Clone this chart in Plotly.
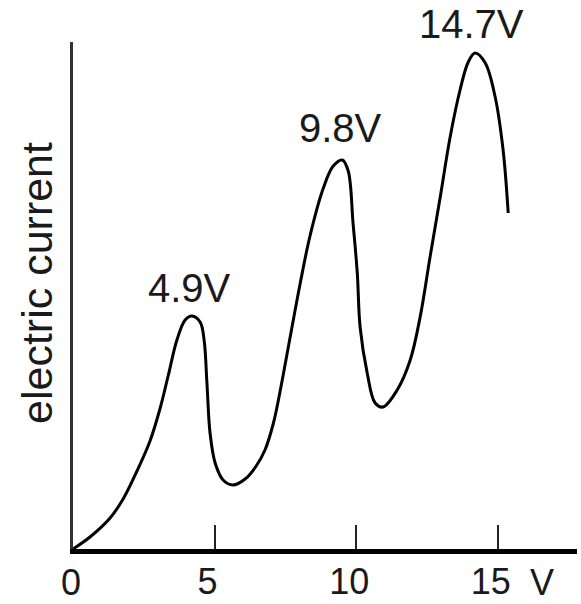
import plotly.graph_objects as go

# Accelerating voltage (V) and electric current (arbitrary units)
voltage = [0.0, 0.60, 1.31, 1.77, 2.26, 2.72, 3.07, 3.36, 3.67, 3.96, 4.20, 4.49, 4.63, 4.73,
           4.84, 5.02, 5.30, 5.65, 6.08, 6.47, 6.78, 7.07, 7.31, 7.67, 8.02, 8.37, 8.83, 9.19,
           9.51, 9.72, 9.89, 10.04, 10.14, 10.39, 10.67, 10.95, 11.45, 11.91, 12.26, 12.61,
           12.97, 13.32, 13.67, 13.96, 14.20, 14.56, 14.91, 15.19, 15.37]
current = [0.0, 1.2, 3.1, 5.0, 7.8, 10.8, 14.0, 17.3, 20.9, 22.9, 23.3, 22.7, 20.9, 16.6,
           11.6, 8.6, 6.9, 6.4, 7.0, 8.3, 9.9, 12.5, 15.7, 21.2, 26.5, 31.3, 36.0, 38.3,
           38.9, 37.8, 32.6, 27.6, 22.2, 17.6, 14.6, 14.2, 15.9, 18.9, 23.2, 29.2,
           35.2, 41.2, 45.9, 48.7, 49.6, 48.6, 45.2, 39.9, 33.6]

# Peak labels (paper coordinates of their centres)
peak_labels = ["4.9V", "9.8V", "14.7V"]
peak_px = [0.2302, 0.5317, 0.7897]
peak_py = [0.5148, 0.8304, 1.0355]

# Axis ticks
tick_vals = [5, 10, 15]
tick_text = ["5", "10", "15"]
origin_label = "0"
unit_label = "V"
y_title = "electric current"

FONT = "Liberation Sans, Arial, sans-serif"
TXT = "#1a1a1a"
TICK_SIZE = 36

fig = go.Figure()
fig.add_trace(go.Scatter(
    x=voltage, y=current, mode="lines",
    line=dict(color="black", width=3, shape="spline", smoothing=1.0),
    hoverinfo="skip", showlegend=False, cliponaxis=False,
))

annotations = []
for t, x, y in zip(peak_labels, peak_px, peak_py):
    annotations.append(dict(x=x, y=y, xref="paper", yref="paper", text=t, showarrow=False,
                            font=dict(family=FONT, size=40, color=TXT),
                            xanchor="center", yanchor="middle"))
annotations.append(dict(x=-0.004, y=-0.0651, xref="paper", yref="paper", text=origin_label,
                        showarrow=False, font=dict(family=FONT, size=TICK_SIZE, color=TXT),
                        xanchor="center", yanchor="middle"))
annotations.append(dict(x=0.9306, y=-0.0651, xref="paper", yref="paper", text=unit_label,
                        showarrow=False, font=dict(family=FONT, size=TICK_SIZE, color=TXT),
                        xanchor="center", yanchor="middle"))
annotations.append(dict(x=-0.0714, y=0.5247, xref="paper", yref="paper", text=y_title,
                        showarrow=False, textangle=-90,
                        font=dict(family=FONT, size=43, color=TXT),
                        xanchor="center", yanchor="middle"))

fig.update_layout(
    width=581, height=604,
    margin=dict(l=73, r=4, t=42, b=55, pad=0, autoexpand=False),
    paper_bgcolor="white", plot_bgcolor="white",
    annotations=annotations,
    xaxis=dict(range=[0, 17.8], showgrid=False, zeroline=False, automargin=False,
               showline=True, linecolor="black", linewidth=5,
               ticks="inside", ticklen=24, tickwidth=2, tickcolor="#222",
               tickvals=tick_vals, ticktext=tick_text,
               tickfont=dict(family=FONT, size=TICK_SIZE, color=TXT),
               ticklabelshift=-7, ticklabelstandoff=-3),
    yaxis=dict(range=[0, 50.7], showgrid=False, zeroline=False, automargin=False,
               showline=True, linecolor="#333", linewidth=3,
               ticks="", showticklabels=False),
)

fig.write_html("out.html", config={"displayModeBar": False},
               post_script="document.body.style.margin='0';document.body.style.padding='0';")
